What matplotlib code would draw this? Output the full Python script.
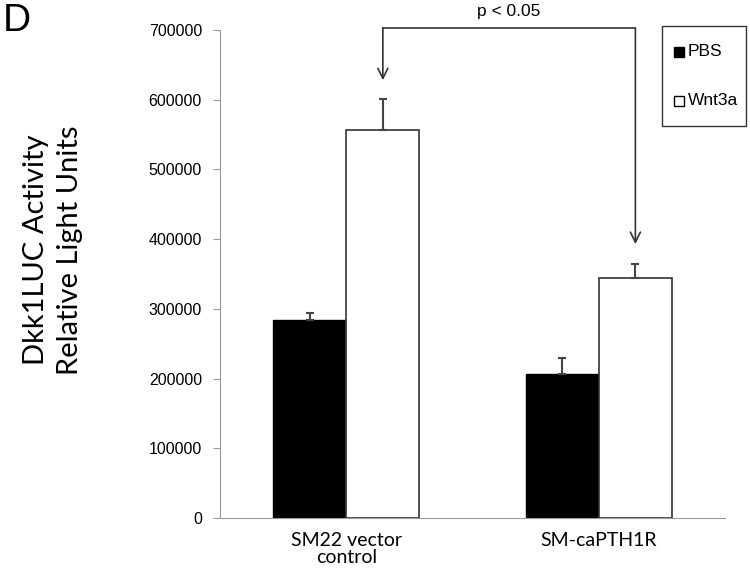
import numpy as np
import matplotlib.pyplot as plt
from matplotlib.patches import Rectangle

# values
groups = ['SM22 vector\ncontrol', 'SM-caPTH1R']
pbs = [284000, 207000]
pbs_err = [10000, 23000]
wnt = [556000, 344000]
wnt_err = [45000, 20000]
yticks = [0, 100000, 200000, 300000, 400000, 500000, 600000, 700000]
legend_labels = ['PBS', 'Wnt3a']

W, H = 750, 569
fig = plt.figure(figsize=(7.5, 5.69), dpi=100)
ax = fig.add_axes([0.2933, 0.0896, 0.6734, 0.8577])

x = np.arange(len(groups))
w = 0.29
grey = '#9a9a9a'

ax.bar(x - w / 2, pbs, w, color='black', edgecolor='black', linewidth=1)
ax.bar(x + w / 2, wnt, w, color='white', edgecolor='#333333', linewidth=1.2)
ax.errorbar(x - w / 2, pbs, yerr=[[0, 0], pbs_err], fmt='none',
            ecolor='#444444', elinewidth=1.5, capsize=3, capthick=1.5)
ax.errorbar(x + w / 2, wnt, yerr=[[0, 0], wnt_err], fmt='none',
            ecolor='#444444', elinewidth=1.5, capsize=3, capthick=1.5)

ax.set_xlim(-0.5, 1.5)
ax.set_ylim(0, 700000)
ax.set_yticks(yticks)
ax.set_yticklabels([str(v) for v in yticks], fontsize=11.5, family='Liberation Sans')
ax.set_xticks(x)
ax.set_xticklabels(groups, fontsize=14, family='Lato', linespacing=1.0)
ax.tick_params(axis='x', length=0, pad=10)
ax.tick_params(axis='y', length=5, color=grey, pad=8)

for s in ['top', 'right']:
    ax.spines[s].set_visible(False)
ax.spines['left'].set_color(grey)
ax.spines['bottom'].set_color(grey)

# y label placed by hand (sits above the axes centre in the original)
fig.text(53 / W, 1 - 250 / H, 'Dkk1LUC Activity\nRelative Light Units',
         rotation=90, ha='center', va='center', multialignment='center',
         fontsize=21, family='Lato', linespacing=1.4)

# significance bracket
yb = 703000
xl, xr = x[0] + w / 2, x[1] + w / 2
ax.plot([xl, xr], [yb, yb], color='#333333', lw=1.2, clip_on=False)
ax.annotate('', xy=(xl, 628000), xytext=(xl, yb),
            arrowprops=dict(arrowstyle='->', color='#333333', lw=1.2,
                            shrinkA=0, shrinkB=0, mutation_scale=18),
            annotation_clip=False)
ax.annotate('', xy=(xr, 393000), xytext=(xr, yb),
            arrowprops=dict(arrowstyle='->', color='#333333', lw=1.2,
                            shrinkA=0, shrinkB=0, mutation_scale=18),
            annotation_clip=False)
ax.text((xl + xr) / 2, 726000, 'p < 0.05', ha='center', va='center',
        fontsize=12.5, family='Liberation Sans')

# legend box drawn by hand
fig.patches.append(Rectangle((662 / W, 1 - 126 / H), 84 / W, 100 / H,
                             transform=fig.transFigure, fill=False,
                             edgecolor='#333333', linewidth=1))
for i, (lab, fc) in enumerate(zip(legend_labels, ['black', 'white'])):
    yy = 1 - (52 + 49 * i) / H
    fig.lines.append(plt.Line2D([679 / W], [yy], transform=fig.transFigure,
                                marker='s', ms=7, mfc=fc, mec='black', mew=1))
    fig.text(688 / W, yy, lab, va='center', ha='left', fontsize=12.5,
             family='Liberation Sans')

fig.text(0.003, 0.995, 'D', fontsize=28, family='Liberation Sans', va='top', ha='left')

fig.savefig('out.png', dpi=100)
